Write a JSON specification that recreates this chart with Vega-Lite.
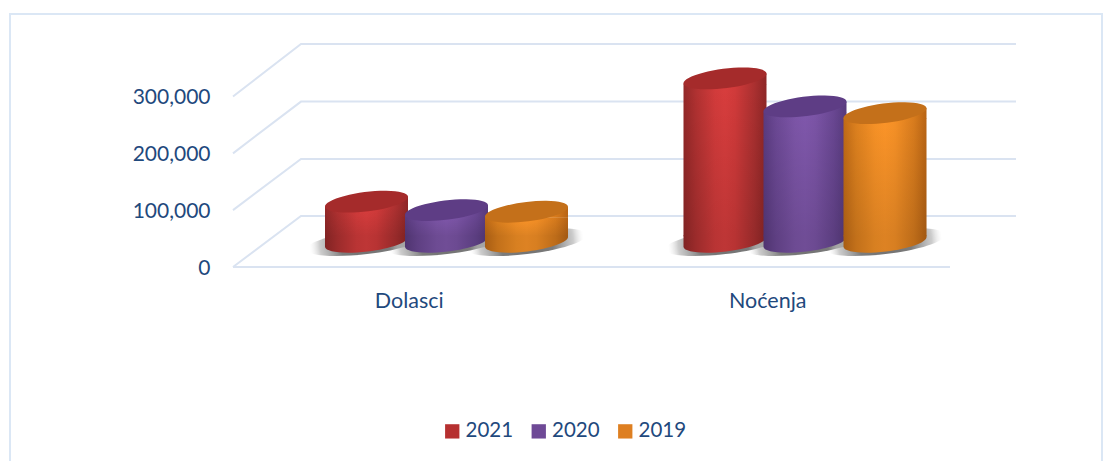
{"$schema":"https://vega.github.io/schema/vega-lite/v6.json","width":1092,"height":448,"padding":{"left":10,"top":14,"right":10,"bottom":0},"autosize":{"type":"none"},"background":"white","config":{"view":{"stroke":"#dbe7f5","strokeWidth":2},"font":"Lato"},
"datasets":{"bars":[{"category":"Dolasci","year":"2021","value":72000},{"category":"Dolasci","year":"2020","value":57000},{"category":"Dolasci","year":"2019","value":54000},{"category":"Noćenja","year":"2021","value":292000},{"category":"Noćenja","year":"2020","value":242000},{"category":"Noćenja","year":"2019","value":230000}],
"grid":[{"line":"a","gx":223,"gy":0},{"line":"a","gx":291,"gy":89700},{"line":"a","gx":1006,"gy":89700},{"line":"b","gx":223,"gy":100000},{"line":"b","gx":291,"gy":190000},{"line":"b","gx":1006,"gy":190000},{"line":"c","gx":223,"gy":200000},{"line":"c","gx":291,"gy":291000},{"line":"c","gx":1006,"gy":291000},{"line":"d","gx":223,"gy":300000},{"line":"d","gx":291,"gy":392400},{"line":"d","gx":1006,"gy":392400},{"line":"e","gx":223,"gy":0},{"line":"e","gx":940,"gy":0}]},
"data":{"name":"bars"},
"resolve":{"scale":{"x":"independent","y":"independent"}},
"layer":[
{"data":{"name":"grid"},"mark":{"type":"line","stroke":"#dae3f1","strokeWidth":2},"encoding":{"detail":{"field":"line"},"x":{"field":"gx","type":"quantitative","axis":null,"scale":{"domain":[0,1092],"range":[0,1092],"nice":false,"zero":false}},"y":{"field":"gy","type":"quantitative","scale":{"domain":[0,300000],"range":[253,82.5],"nice":false},"axis":{"values":[0,100000,200000,300000],"format":",.0f","title":null,"grid":false,"domain":false,"ticks":false,"offset":-200,"labelPadding":0,"labelOffset":1,"labelFont":"Lato","labelFontSize":21,"labelColor":"#1f497d"}}}},
{"mark":{"type":"point","filled":true,"opacity":1,"size":14400,"shape":"M -1 0.12 A 1 0.2 -7 1 1 1 -0.12 A 1 0.2 -7 1 1 -1 0.12 Z","fill":{"gradient":"radial","x1":0.5,"y1":0.5,"r1":0,"x2":0.5,"y2":0.5,"r2":0.5,"stops":[{"offset":0,"color":"#6f6f6f"},{"offset":0.45,"color":"#7c7c7c"},{"offset":0.78,"color":"rgba(170,170,170,0.6)"},{"offset":0.95,"color":"rgba(220,220,220,0)"}]}},"encoding":{"x":{"field":"category","type":"nominal","sort":["Dolasci","Noćenja"],"axis":null,"scale":{"domain":["Dolasci","Noćenja"],"range":[257,974],"paddingInner":0,"paddingOuter":0}},"xOffset":{"field":"year","type":"nominal","scale":{"domain":["2021","2020","2019"],"range":[59.5,299.5],"paddingInner":0,"paddingOuter":0}},"y":{"datum":0,"type":"quantitative","axis":null,"scale":{"domain":[0,300000],"range":[228,60],"nice":false}}}},
{"transform":[{"filter":"datum.year==='2021'"}],"encoding":{"x":{"field":"category","type":"nominal","sort":["Dolasci","Noćenja"],"title":null,"axis":{"labelAngle":0,"offset":-161,"labelPadding":0,"labelOffset":-37,"labelBaseline":"middle","domain":false,"ticks":false,"labelFont":"Lato","labelFontSize":21.5,"labelColor":"#1f497d"},"scale":{"domain":["Dolasci","Noćenja"],"range":[257,974],"paddingInner":0,"paddingOuter":0}},"xOffset":{"field":"year","type":"nominal","scale":{"domain":["2021","2020","2019"],"range":[59.5,299.5],"paddingInner":0,"paddingOuter":0}}},"layer":[
{"mark":{"type":"bar","width":83,"yOffset":5.4,"y2Offset":-5.8,"fill":{"gradient":"linear","x1":0,"x2":1,"y1":0,"y2":0,"stops":[{"offset":0,"color":"#932828"},{"offset":0.15,"color":"#b03131"},{"offset":0.38,"color":"#d23b3b"},{"offset":0.5,"color":"#d83d3d"},{"offset":0.62,"color":"#d13a3a"},{"offset":0.85,"color":"#ab3030"},{"offset":1,"color":"#8e2626"}]}},"encoding":{"y":{"field":"value","type":"quantitative","axis":null,"scale":{"domain":[0,300000],"range":[228,60],"nice":false}},"y2":{"datum":0}}},
{"mark":{"type":"bar","width":83,"yOffset":5.4,"y2Offset":-5.8,"fill":{"gradient":"linear","x1":0,"x2":0,"y1":0,"y2":1,"stops":[{"offset":0,"color":"rgba(0,0,0,0)"},{"offset":1,"color":"rgba(0,0,0,0.12)"}]}},"encoding":{"y":{"field":"value","type":"quantitative"},"y2":{"datum":0}}},
{"mark":{"type":"point","filled":true,"opacity":1,"size":6993,"shape":"M -0.9925 0.122 L 0.9925 -0.122 L 0.9925 0.14 L -0.9925 0.14 Z","fill":{"gradient":"linear","x1":0,"x2":1,"y1":0,"y2":0,"stops":[{"offset":0,"color":"#932828"},{"offset":0.15,"color":"#b03131"},{"offset":0.38,"color":"#d23b3b"},{"offset":0.5,"color":"#d83d3d"},{"offset":0.62,"color":"#d13a3a"},{"offset":0.85,"color":"#ab3030"},{"offset":1,"color":"#8e2626"}]}},"encoding":{"y":{"field":"value","type":"quantitative"}}},
{"mark":{"type":"point","filled":true,"opacity":1,"size":6993,"shape":"M -0.9925 0.122 A 1 0.23 -7 0 0 0.9925 -0.122 L 0.9925 -0.16 L -0.9925 -0.16 Z","fill":{"gradient":"linear","x1":0,"x2":1,"y1":0,"y2":0,"stops":[{"offset":0,"color":"#812323"},{"offset":0.15,"color":"#9b2b2b"},{"offset":0.38,"color":"#b93434"},{"offset":0.5,"color":"#be3636"},{"offset":0.62,"color":"#b83333"},{"offset":0.85,"color":"#972a2a"},{"offset":1,"color":"#7d2121"}]}},"encoding":{"y":{"datum":0,"type":"quantitative"}}},
{"mark":{"type":"point","filled":true,"opacity":1,"size":6993,"fill":"#a52b2b","shape":"M -0.9925 0.122 A 1 0.23 -7 1 1 0.9925 -0.122 A 1 0.23 -7 1 1 -0.9925 0.122 Z"},"encoding":{"y":{"field":"value","type":"quantitative"}}}
]},
{"transform":[{"filter":"datum.year==='2020'"}],"encoding":{"x":{"field":"category","type":"nominal","sort":["Dolasci","Noćenja"],"axis":null,"scale":{"domain":["Dolasci","Noćenja"],"range":[257,974],"paddingInner":0,"paddingOuter":0}},"xOffset":{"field":"year","type":"nominal","scale":{"domain":["2021","2020","2019"],"range":[59.5,299.5],"paddingInner":0,"paddingOuter":0}}},"layer":[
{"mark":{"type":"bar","width":83,"yOffset":5.4,"y2Offset":-5.8,"fill":{"gradient":"linear","x1":0,"x2":1,"y1":0,"y2":0,"stops":[{"offset":0,"color":"#5a3b80"},{"offset":0.15,"color":"#6b4894"},{"offset":0.38,"color":"#7c55a7"},{"offset":0.5,"color":"#7f57ab"},{"offset":0.62,"color":"#7b54a6"},{"offset":0.85,"color":"#684691"},{"offset":1,"color":"#573a7c"}]}},"encoding":{"y":{"field":"value","type":"quantitative","axis":null,"scale":{"domain":[0,300000],"range":[228,60],"nice":false}},"y2":{"datum":0}}},
{"mark":{"type":"bar","width":83,"yOffset":5.4,"y2Offset":-5.8,"fill":{"gradient":"linear","x1":0,"x2":0,"y1":0,"y2":1,"stops":[{"offset":0,"color":"rgba(0,0,0,0)"},{"offset":1,"color":"rgba(0,0,0,0.12)"}]}},"encoding":{"y":{"field":"value","type":"quantitative"},"y2":{"datum":0}}},
{"mark":{"type":"point","filled":true,"opacity":1,"size":6993,"shape":"M -0.9925 0.122 L 0.9925 -0.122 L 0.9925 0.14 L -0.9925 0.14 Z","fill":{"gradient":"linear","x1":0,"x2":1,"y1":0,"y2":0,"stops":[{"offset":0,"color":"#5a3b80"},{"offset":0.15,"color":"#6b4894"},{"offset":0.38,"color":"#7c55a7"},{"offset":0.5,"color":"#7f57ab"},{"offset":0.62,"color":"#7b54a6"},{"offset":0.85,"color":"#684691"},{"offset":1,"color":"#573a7c"}]}},"encoding":{"y":{"field":"value","type":"quantitative"}}},
{"mark":{"type":"point","filled":true,"opacity":1,"size":6993,"shape":"M -0.9925 0.122 A 1 0.23 -7 0 0 0.9925 -0.122 L 0.9925 -0.16 L -0.9925 -0.16 Z","fill":{"gradient":"linear","x1":0,"x2":1,"y1":0,"y2":0,"stops":[{"offset":0,"color":"#4f3470"},{"offset":0.15,"color":"#5e3f82"},{"offset":0.38,"color":"#6d4b93"},{"offset":0.5,"color":"#704d96"},{"offset":0.62,"color":"#6c4a92"},{"offset":0.85,"color":"#5b3e80"},{"offset":1,"color":"#4d336d"}]}},"encoding":{"y":{"datum":0,"type":"quantitative"}}},
{"mark":{"type":"point","filled":true,"opacity":1,"size":6993,"fill":"#5e3d85","shape":"M -0.9925 0.122 A 1 0.23 -7 1 1 0.9925 -0.122 A 1 0.23 -7 1 1 -0.9925 0.122 Z"},"encoding":{"y":{"field":"value","type":"quantitative"}}}
]},
{"transform":[{"filter":"datum.year==='2019'"}],"encoding":{"x":{"field":"category","type":"nominal","sort":["Dolasci","Noćenja"],"axis":null,"scale":{"domain":["Dolasci","Noćenja"],"range":[257,974],"paddingInner":0,"paddingOuter":0}},"xOffset":{"field":"year","type":"nominal","scale":{"domain":["2021","2020","2019"],"range":[59.5,299.5],"paddingInner":0,"paddingOuter":0}}},"layer":[
{"mark":{"type":"bar","width":83,"yOffset":5.4,"y2Offset":-5.8,"fill":{"gradient":"linear","x1":0,"x2":1,"y1":0,"y2":0,"stops":[{"offset":0,"color":"#bf6a16"},{"offset":0.15,"color":"#dc801e"},{"offset":0.38,"color":"#f69126"},{"offset":0.5,"color":"#fb9428"},{"offset":0.62,"color":"#f59026"},{"offset":0.85,"color":"#d77b1d"},{"offset":1,"color":"#b86414"}]}},"encoding":{"y":{"field":"value","type":"quantitative","axis":null,"scale":{"domain":[0,300000],"range":[228,60],"nice":false}},"y2":{"datum":0}}},
{"mark":{"type":"bar","width":83,"yOffset":5.4,"y2Offset":-5.8,"fill":{"gradient":"linear","x1":0,"x2":0,"y1":0,"y2":1,"stops":[{"offset":0,"color":"rgba(0,0,0,0)"},{"offset":1,"color":"rgba(0,0,0,0.12)"}]}},"encoding":{"y":{"field":"value","type":"quantitative"},"y2":{"datum":0}}},
{"mark":{"type":"point","filled":true,"opacity":1,"size":6993,"shape":"M -0.9925 0.122 L 0.9925 -0.122 L 0.9925 0.14 L -0.9925 0.14 Z","fill":{"gradient":"linear","x1":0,"x2":1,"y1":0,"y2":0,"stops":[{"offset":0,"color":"#bf6a16"},{"offset":0.15,"color":"#dc801e"},{"offset":0.38,"color":"#f69126"},{"offset":0.5,"color":"#fb9428"},{"offset":0.62,"color":"#f59026"},{"offset":0.85,"color":"#d77b1d"},{"offset":1,"color":"#b86414"}]}},"encoding":{"y":{"field":"value","type":"quantitative"}}},
{"mark":{"type":"point","filled":true,"opacity":1,"size":6993,"shape":"M -0.9925 0.122 A 1 0.23 -7 0 0 0.9925 -0.122 L 0.9925 -0.16 L -0.9925 -0.16 Z","fill":{"gradient":"linear","x1":0,"x2":1,"y1":0,"y2":0,"stops":[{"offset":0,"color":"#a85d13"},{"offset":0.15,"color":"#c2701a"},{"offset":0.38,"color":"#d88021"},{"offset":0.5,"color":"#dd8223"},{"offset":0.62,"color":"#d87f21"},{"offset":0.85,"color":"#bd6c19"},{"offset":1,"color":"#a25812"}]}},"encoding":{"y":{"datum":0,"type":"quantitative"}}},
{"mark":{"type":"point","filled":true,"opacity":1,"size":6993,"fill":"#c4701a","shape":"M -0.9925 0.122 A 1 0.23 -7 1 1 0.9925 -0.122 A 1 0.23 -7 1 1 -0.9925 0.122 Z"},"encoding":{"y":{"field":"value","type":"quantitative"}}}
]},
{"mark":{"type":"point","filled":true,"opacity":0,"size":1},"encoding":{"color":{"field":"year","type":"nominal","scale":{"domain":["2021","2020","2019"],"range":["#b63030","#6e4996","#de7f21"]},"legend":{"title":null,"orient":"none","legendX":432,"legendY":407,"direction":"horizontal","symbolType":"square","symbolSize":205,"symbolOpacity":1,"symbolStrokeWidth":0,"labelFont":"Lato","labelFontSize":20.5,"labelColor":"#1f497d","labelOffset":3,"columnPadding":14.5}}}}
]}
